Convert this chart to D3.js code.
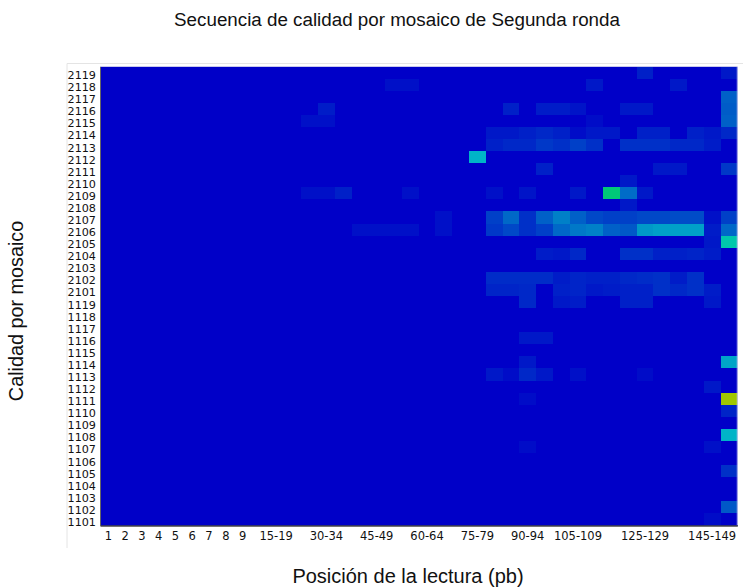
<!DOCTYPE html>
<html lang="es">
<head>
<meta charset="UTF-8">
<title>Secuencia de calidad por mosaico</title>
<script src="https://cdn.jsdelivr.net/npm/d3@7"></script>
<style>
  body { margin: 0; background: #fff; }
  svg { display: block; }
</style>
</head>
<body>
<svg id="chart" width="743" height="588"></svg>
<script>
// tiles from top to bottom
const tiles = [
  "2119","2118","2117","2116","2115","2114","2113","2112","2111","2110",
  "2109","2108","2107","2106","2105","2104","2103","2102","2101",
  "1119","1118","1117","1116","1115","1114","1113","1112","1111","1110",
  "1109","1108","1107","1106","1105","1104","1103","1102","1101"
];

// read positions (bp), one column each
const positions = [
  "1","2","3","4","5","6","7","8","9",
  "10-14","15-19","20-24","25-29","30-34","35-39","40-44","45-49","50-54",
  "55-59","60-64","65-69","70-74","75-79","80-84","85-89","90-94","95-99",
  "100-104","105-109","110-114","115-119","120-124","125-129","130-134",
  "135-139","140-144","145-149","150-151"
];

const tickLabels = ["1","2","3","4","5","6","7","8","9","15-19","30-34","45-49",
  "60-64","75-79","90-94","105-109","125-129","145-149"];

// deviation from mean quality, only the cells that differ from 0: [tile, position, value]
const deviations = [
  ["2119","125-129",0.4],["2119","150-151",0.3],
  ["2118","50-54",0.2],["2118","55-59",0.2],["2118","110-114",0.3],["2118","135-139",0.3],
  ["2117","150-151",1.2],
  ["2116","30-34",0.35],["2116","85-89",0.4],["2116","95-99",0.35],["2116","100-104",0.35],
  ["2116","105-109",0.25],["2116","120-124",0.3],["2116","125-129",0.3],["2116","150-151",1.15],
  ["2115","25-29",0.2],["2115","30-34",0.2],["2115","110-114",0.15],["2115","150-151",1.2],
  ["2114","80-84",0.3],["2114","85-89",0.3],["2114","90-94",0.4],["2114","95-99",0.5],
  ["2114","100-104",0.4],["2114","105-109",0.15],["2114","110-114",0.3],["2114","115-119",0.3],
  ["2114","125-129",0.4],["2114","130-134",0.4],["2114","140-144",0.4],["2114","145-149",0.3],
  ["2114","150-151",0.5],
  ["2113","80-84",0.4],["2113","85-89",0.5],["2113","90-94",0.5],["2113","95-99",0.7],
  ["2113","100-104",0.6],["2113","105-109",0.8],["2113","110-114",0.6],["2113","120-124",0.6],
  ["2113","125-129",0.6],["2113","130-134",0.6],["2113","135-139",0.5],["2113","140-144",0.5],
  ["2113","145-149",0.35],
  ["2112","75-79",2.25],
  ["2111","95-99",0.4],["2111","130-134",0.3],["2111","135-139",0.3],["2111","150-151",0.7],
  ["2110","120-124",0.3],
  ["2109","25-29",0.2],["2109","30-34",0.2],["2109","35-39",0.4],["2109","55-59",0.2],
  ["2109","80-84",0.2],["2109","90-94",0.25],["2109","105-109",0.3],["2109","115-119",3.5],
  ["2109","120-124",1.35],["2109","125-129",0.3],
  ["2108","120-124",0.3],
  ["2107","65-69",0.2],["2107","80-84",0.8],["2107","85-89",1.3],["2107","90-94",0.6],
  ["2107","95-99",1.2],["2107","100-104",1.6],["2107","105-109",1.2],["2107","110-114",0.9],
  ["2107","115-119",0.8],["2107","120-124",0.8],["2107","125-129",0.9],["2107","130-134",0.9],
  ["2107","135-139",0.95],["2107","140-144",0.95],["2107","145-149",0.2],["2107","150-151",0.8],
  ["2106","40-44",0.2],["2106","45-49",0.2],["2106","50-54",0.2],["2106","55-59",0.2],
  ["2106","65-69",0.2],["2106","80-84",0.7],["2106","85-89",0.9],["2106","90-94",0.6],
  ["2106","95-99",0.8],["2106","100-104",1.3],["2106","105-109",1.5],["2106","110-114",1.6],
  ["2106","115-119",1.2],["2106","120-124",1.1],["2106","125-129",1.9],["2106","130-134",2.0],
  ["2106","135-139",2.0],["2106","140-144",2.0],["2106","145-149",0.35],["2106","150-151",1.3],
  ["2105","145-149",0.3],["2105","150-151",2.85],
  ["2104","95-99",0.35],["2104","100-104",0.3],["2104","105-109",0.5],["2104","120-124",0.6],
  ["2104","125-129",0.6],["2104","130-134",0.4],["2104","135-139",0.4],["2104","140-144",0.45],
  ["2104","145-149",0.35],
  ["2102","80-84",0.55],["2102","85-89",0.55],["2102","90-94",0.55],["2102","95-99",0.55],
  ["2102","100-104",0.35],["2102","105-109",0.45],["2102","110-114",0.4],["2102","115-119",0.4],
  ["2102","120-124",0.5],["2102","125-129",0.55],["2102","130-134",0.6],["2102","135-139",0.35],
  ["2102","140-144",0.6],
  ["2101","80-84",0.45],["2101","85-89",0.45],["2101","90-94",0.5],["2101","100-104",0.4],
  ["2101","105-109",0.45],["2101","110-114",0.3],["2101","115-119",0.35],["2101","120-124",0.4],
  ["2101","125-129",0.4],["2101","130-134",0.6],["2101","135-139",0.5],["2101","140-144",0.6],
  ["2101","145-149",0.35],
  ["1119","90-94",0.5],["1119","100-104",0.3],["1119","105-109",0.35],["1119","120-124",0.4],
  ["1119","125-129",0.4],["1119","145-149",0.3],
  ["1116","90-94",0.3],["1116","95-99",0.3],
  ["1114","90-94",0.3],["1114","150-151",2.05],
  ["1113","80-84",0.3],["1113","85-89",0.15],["1113","90-94",0.5],["1113","95-99",0.3],
  ["1113","105-109",0.2],["1113","125-129",0.15],
  ["1112","145-149",0.3],
  ["1111","90-94",0.15],["1111","150-151",7.0],
  ["1110","150-151",0.45],
  ["1108","150-151",2.25],
  ["1107","90-94",0.15],["1107","145-149",0.2],
  ["1105","150-151",0.6],
  ["1102","150-151",1.1],
  ["1101","145-149",0.15]
];

const width = 743, height = 588;
const plot = { left: 100, right: 737.3, top: 66.5, bottom: 525.5 };

const svg = d3.select("#chart");

const lookup = new Map(deviations.map(d => [d[0] + "|" + d[1], d[2]]));
const cells = d3.cross(tiles, positions).map(([t, p]) => ({
  tile: t, pos: p, value: lookup.get(t + "|" + p) || 0
}));

const x = d3.scaleBand().domain(positions).range([plot.left, plot.right]);
const y = d3.scaleBand().domain(tiles).range([plot.top, plot.bottom]);

// blue -> cyan -> green -> yellow -> red
const color = d3.scaleLinear()
  .domain([0, 2.5, 5, 7.5, 10])
  .range(["rgb(0,0,200)", "rgb(0,200,200)", "rgb(0,200,0)", "rgb(200,200,0)", "rgb(200,0,0)"])
  .clamp(true);

// faint frame of the embedded figure
svg.append("path")
  .attr("d", `M67,${height - 40}V63.5H${width}`)
  .attr("fill", "none")
  .attr("stroke", "#e4e4e4");

svg.append("g")
  .attr("shape-rendering", "crispEdges")
  .selectAll("rect")
  .data(cells)
  .join("rect")
  .attr("x", d => x(d.pos))
  .attr("y", d => y(d.tile))
  .attr("width", x.bandwidth() + 0.5)
  .attr("height", y.bandwidth() + 0.5)
  .attr("fill", d => color(d.value));

// thin light edges on top and right
svg.append("path")
  .attr("d", `M${plot.left},${plot.top}H${plot.right}V${plot.bottom}`)
  .attr("fill", "none")
  .attr("stroke", "#c8c8ee")
  .attr("stroke-width", 1);

const xAxis = svg.append("g")
  .attr("transform", `translate(0,${plot.bottom})`)
  .call(d3.axisBottom(x).tickValues(tickLabels).tickSize(0).tickPadding(6));
xAxis.select(".domain").attr("stroke", "#444").attr("stroke-width", 1.3);
xAxis.selectAll("text")
  .attr("font-family", "DejaVu Sans, sans-serif")
  .attr("font-size", "11.5px")
  .attr("fill", "#111");

const yAxis = svg.append("g")
  .attr("transform", `translate(${plot.left},0)`)
  .call(d3.axisLeft(y).tickSize(0).tickPadding(4));
yAxis.select(".domain").attr("stroke", "#666").attr("stroke-width", 1);
yAxis.selectAll("text")
  .attr("font-family", "DejaVu Sans, sans-serif")
  .attr("font-size", "11.2px")
  .attr("fill", "#111")
  .attr("dy", "0.58em");

svg.append("text")
  .attr("x", 397)
  .attr("y", 26)
  .attr("text-anchor", "middle")
  .attr("font-family", "Liberation Sans, Arial, sans-serif")
  .attr("font-size", "18.8px")
  .attr("fill", "#111")
  .text("Secuencia de calidad por mosaico de Segunda ronda");

svg.append("text")
  .attr("x", 408)
  .attr("y", 583)
  .attr("text-anchor", "middle")
  .attr("font-family", "Liberation Sans, Arial, sans-serif")
  .attr("font-size", "20px")
  .attr("fill", "#111")
  .text("Posición de la lectura (pb)");

svg.append("text")
  .attr("transform", "translate(23,311) rotate(-90)")
  .attr("text-anchor", "middle")
  .attr("font-family", "Liberation Sans, Arial, sans-serif")
  .attr("font-size", "19.8px")
  .attr("fill", "#111")
  .text("Calidad por mosaico");
</script>
</body>
</html>
